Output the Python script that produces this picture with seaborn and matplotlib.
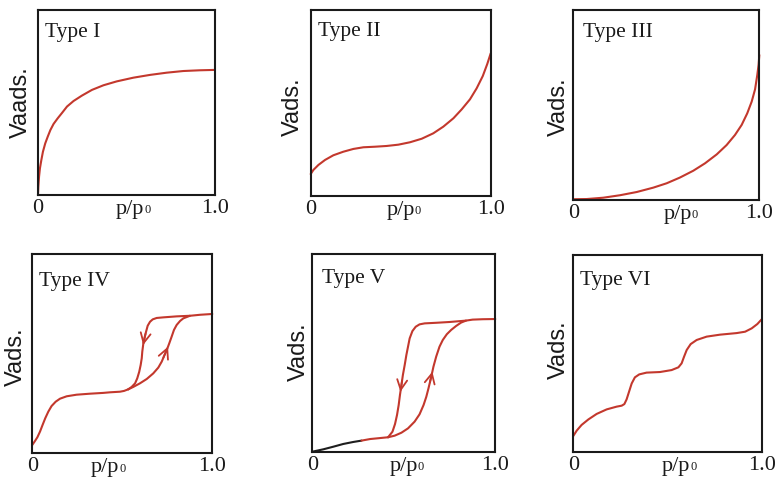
import numpy as np
import pandas as pd
import matplotlib
matplotlib.use("Agg")
import matplotlib.pyplot as plt
import seaborn as sns

sns.set_theme(style="white")
plt.rcParams['font.family'] = ['Liberation Serif', 'DejaVu Serif']
plt.rcParams['mathtext.fontset'] = 'stix'

RED = "#c3382d"
DARK = "#1e1e1e"

# ---------------- data ----------------
titles = ["Type I", "Type II", "Type III", "Type IV", "Type V", "Type VI"]
ylabels = ["Vaads.", "Vads.", "Vads.", "Vads.", "Vads.", "Vads."]
tick_labels = ["0", "1.0"]
xlabel_main = "p/p"
xlabel_sub = "0"

type1_x = [0, 0.002, 0.006, 0.011, 0.019, 0.028, 0.041, 0.055, 0.07, 0.088, 0.111, 0.137, 0.164,
           0.201, 0.248, 0.305, 0.37, 0.445, 0.539, 0.633, 0.727, 0.821, 0.915, 1.0]
type1_y = [0, 0.045, 0.099, 0.144, 0.189, 0.234, 0.279, 0.315, 0.351, 0.384, 0.414, 0.445, 0.478,
           0.508, 0.537, 0.568, 0.593, 0.614, 0.634, 0.649, 0.661, 0.670, 0.674, 0.676]

type2_x = [0, 0.015, 0.043, 0.08, 0.126, 0.181, 0.237, 0.293, 0.357, 0.422, 0.487, 0.552, 0.617,
           0.681, 0.737, 0.793, 0.839, 0.885, 0.922, 0.956, 0.981, 1.0]
type2_y = [0.118, 0.14, 0.167, 0.194, 0.219, 0.238, 0.253, 0.262, 0.265, 0.269, 0.276, 0.289, 0.308,
           0.337, 0.373, 0.418, 0.466, 0.52, 0.579, 0.645, 0.71, 0.767]

type3_x = [0, 0.072, 0.161, 0.251, 0.341, 0.43, 0.502, 0.573, 0.645, 0.708, 0.771, 0.824, 0.869,
           0.905, 0.935, 0.959, 0.977, 0.989, 0.996, 1.0]
type3_y = [0.004, 0.005, 0.012, 0.025, 0.042, 0.065, 0.088, 0.118, 0.154, 0.193, 0.24, 0.289, 0.342,
           0.395, 0.456, 0.518, 0.582, 0.658, 0.711, 0.763]

type4_base_x = [0, 0.013, 0.028, 0.043, 0.057, 0.072, 0.089, 0.107, 0.13, 0.154, 0.191, 0.246, 0.32,
                0.394, 0.432, 0.487, 0.51, 0.533]
type4_base_y = [0.042, 0.059, 0.08, 0.109, 0.142, 0.176, 0.209, 0.237, 0.259, 0.274, 0.286, 0.294,
                0.299, 0.303, 0.306, 0.309, 0.313, 0.321]
type4_ads_x = [0.533, 0.561, 0.598, 0.636, 0.672, 0.7, 0.719, 0.733, 0.747, 0.761, 0.774, 0.787,
               0.802, 0.821, 0.839, 0.876, 0.932, 1.0]
type4_ads_y = [0.321, 0.333, 0.351, 0.373, 0.401, 0.43, 0.46, 0.49, 0.518, 0.552, 0.585, 0.619,
               0.644, 0.664, 0.677, 0.69, 0.695, 0.699]
type4_des_x = [0.876, 0.802, 0.728, 0.691, 0.669, 0.654, 0.641, 0.632, 0.624, 0.617, 0.611, 0.608,
               0.602, 0.594, 0.583, 0.571, 0.552, 0.533]
type4_des_y = [0.69, 0.687, 0.682, 0.679, 0.672, 0.66, 0.64, 0.61, 0.582, 0.552, 0.51, 0.477,
               0.443, 0.409, 0.376, 0.351, 0.333, 0.321]

type5_base_x = [0, 0.06, 0.114, 0.169, 0.223, 0.269]
type5_base_y = [0.0, 0.012, 0.025, 0.039, 0.049, 0.056]
type5_low_x = [0.269, 0.316, 0.36, 0.414]
type5_low_y = [0.056, 0.064, 0.068, 0.073]
type5_ads_x = [0.414, 0.45, 0.487, 0.523, 0.559, 0.586, 0.608, 0.623, 0.635, 0.65, 0.662, 0.677,
               0.695, 0.713, 0.735, 0.759, 0.786, 0.813, 0.84, 0.876, 0.931, 1.0]
type5_ads_y = [0.073, 0.081, 0.096, 0.118, 0.152, 0.189, 0.236, 0.278, 0.321, 0.379, 0.43, 0.481,
               0.531, 0.565, 0.594, 0.616, 0.636, 0.653, 0.663, 0.668, 0.67, 0.671]
type5_des_x = [0.84, 0.75, 0.677, 0.614, 0.586, 0.565, 0.547, 0.532, 0.523, 0.514, 0.505, 0.495,
               0.487, 0.479, 0.472, 0.463, 0.452, 0.438, 0.414]
type5_des_y = [0.663, 0.656, 0.652, 0.649, 0.644, 0.632, 0.61, 0.573, 0.531, 0.489, 0.439, 0.388,
               0.337, 0.287, 0.236, 0.186, 0.14, 0.101, 0.073]

type6_x = [0, 0.018, 0.044, 0.08, 0.124, 0.177, 0.23, 0.257, 0.271, 0.283, 0.296, 0.31, 0.327, 0.35,
           0.389, 0.46, 0.522, 0.558, 0.575, 0.588, 0.602, 0.623, 0.655, 0.708, 0.779, 0.867, 0.912,
           0.947, 0.977, 1.0]
type6_y = [0.08, 0.107, 0.136, 0.164, 0.192, 0.215, 0.229, 0.234, 0.242, 0.266, 0.305, 0.347, 0.378,
           0.393, 0.402, 0.405, 0.415, 0.429, 0.449, 0.483, 0.517, 0.547, 0.568, 0.585, 0.595, 0.603,
           0.61, 0.627, 0.649, 0.673]

# arrows on hysteresis branches: (tail y, tip y)
arrow_iv_des_y = (0.60, 0.543)
arrow_iv_ads_y = (0.48, 0.535)
arrow_v_des_y = (0.36, 0.303)
arrow_v_ads_y = (0.35, 0.405)

# ---------------- layout (figure fractions) ----------------
rects = [
    [0.0487, 0.5988, 0.2269, 0.3807],
    [0.3983, 0.5967, 0.2308, 0.3827],
    [0.7350, 0.5885, 0.2385, 0.3910],
    [0.0414, 0.0673, 0.2308, 0.4101],
    [0.4004, 0.0706, 0.2346, 0.4068],
    [0.7350, 0.0706, 0.2415, 0.4047],
]
ylabel_pos = [(-0.096, 0.50), (-0.097, 0.48), (-0.076, 0.49), (-0.091, 0.485), (-0.071, 0.506), (-0.075, 0.517)]
title_pos = [(0.04, 0.852), (0.042, 0.86), (0.054, 0.856), (0.039, 0.84), (0.051, 0.855), (0.036, 0.847)]
xlabel_x = [0.52, 0.50, 0.56, 0.405, 0.50, 0.547]

fig = plt.figure(figsize=(7.8, 4.86), dpi=100)
axes = [fig.add_axes(r) for r in rects]


def curve(ax, xs, ys, color=RED):
    df = pd.DataFrame({"x": xs, "y": ys})
    sns.lineplot(data=df, x="x", y="y", ax=ax, color=color, lw=1.5, sort=False,
                 estimator=None, clip_on=False)


def arrow(ax, bx, by, ys):
    order = np.argsort(by)
    yb = np.asarray(by)[order]
    xb = np.asarray(bx)[order]
    y0, y1 = ys
    x0, x1 = np.interp(y0, yb, xb), np.interp(y1, yb, xb)
    ax.annotate("", xy=(x1, y1), xytext=(x0, y0),
                arrowprops=dict(arrowstyle="->,head_length=0.6,head_width=0.3",
                                color=RED, lw=1.3, shrinkA=0, shrinkB=0))


curve(axes[0], type1_x, type1_y)
curve(axes[1], type2_x, type2_y)
curve(axes[2], type3_x, type3_y)
curve(axes[3], type4_base_x, type4_base_y)
curve(axes[3], type4_ads_x, type4_ads_y)
curve(axes[3], type4_des_x, type4_des_y)
arrow(axes[3], type4_des_x, type4_des_y, arrow_iv_des_y)
arrow(axes[3], type4_ads_x, type4_ads_y, arrow_iv_ads_y)
curve(axes[4], type5_base_x, type5_base_y, color=DARK)
curve(axes[4], type5_low_x, type5_low_y)
curve(axes[4], type5_ads_x, type5_ads_y)
curve(axes[4], type5_des_x, type5_des_y)
arrow(axes[4], type5_des_x, type5_des_y, arrow_v_des_y)
arrow(axes[4], type5_ads_x, type5_ads_y, arrow_v_ads_y)
curve(axes[5], type6_x, type6_y)

for i, ax in enumerate(axes):
    ax.set_xlim(0, 1)
    ax.set_ylim(0, 1)
    ax.set_xticks([0, 1])
    ax.set_xticklabels(tick_labels, fontsize=16, color="#1a1a1a")
    ax.set_yticks([])
    ax.tick_params(axis="x", length=0, pad=3)
    for s in ax.spines.values():
        s.set_visible(True)
        s.set_color("#1a1a1a")
        s.set_linewidth(1.5)
    ax.set_xlabel(xlabel_main, fontsize=16, color="#1a1a1a")
    ax.xaxis.set_label_coords(xlabel_x[i], -0.025)
    ax.annotate(xlabel_sub, xy=(1.0, 0.12), xycoords=ax.xaxis.label, fontsize=9,
                ha="left", va="bottom", color="#1a1a1a")
    ax.set_ylabel(ylabels[i], fontsize=17, family=["Liberation Sans", "DejaVu Sans"], color="#1a1a1a")
    ax.yaxis.set_label_coords(*ylabel_pos[i])
    ax.yaxis.label.set_verticalalignment("center")
    ax.text(title_pos[i][0], title_pos[i][1], titles[i], transform=ax.transAxes,
            fontsize=15.5, ha="left", va="baseline", color="#1a1a1a")

fig.savefig("out.png", dpi=100)
